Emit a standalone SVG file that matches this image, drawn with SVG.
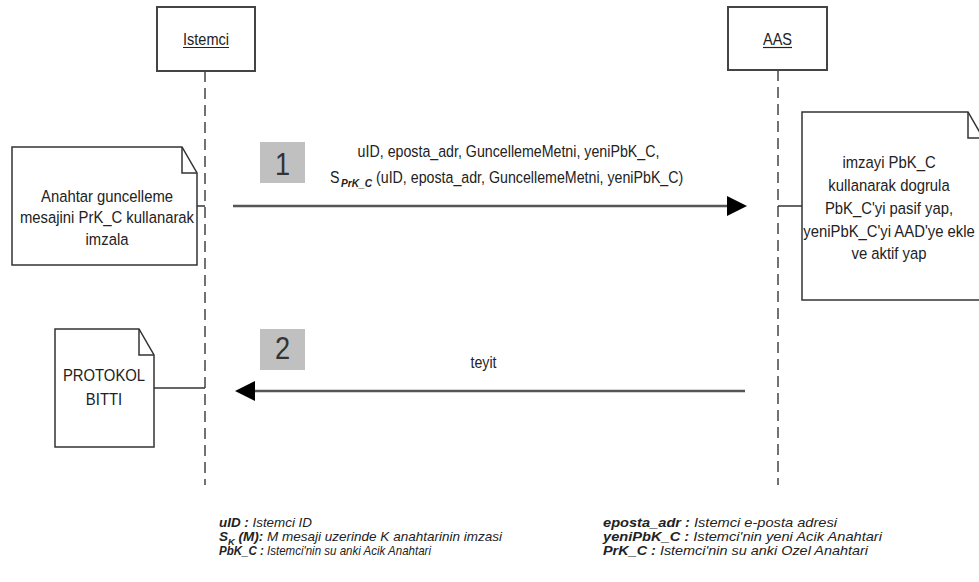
<svg xmlns="http://www.w3.org/2000/svg" width="979" height="582" viewBox="0 0 979 582">
<defs>
<style>
text{font-family:"Liberation Sans",Arial,sans-serif;fill:#222}
.lbl{font-size:17px}
.note{font-size:16.5px;text-anchor:middle}
.msg{font-size:16.5px}
.num{font-size:32px;text-anchor:middle;fill:#333}
.lg{font-size:13px;font-style:italic}
.b{font-weight:bold}
.box{fill:#fff;stroke:#444;stroke-width:2}
.nt{fill:#fff;stroke:#333;stroke-width:1.5}
.fold{fill:none;stroke:#333;stroke-width:1.5}
.life{stroke:#444;stroke-width:1.5;stroke-dasharray:11 6;fill:none}
.conn{stroke:#333;stroke-width:1.5;fill:none}
.arr{stroke:#555;stroke-width:2.5;fill:none}
.head{fill:#000}
.nbox{fill:#c0c0c0}
</style>
</defs>

<g id="istemci">
<rect class="box" x="157" y="7" width="98" height="64"/>
<text class="lbl" transform="translate(206,45) scale(0.855,1)" text-anchor="middle">Istemci</text>
<line x1="183" y1="47.5" x2="229" y2="47.5" stroke="#222" stroke-width="1.2"/>
</g>

<g id="aas">
<rect class="box" x="728" y="7" width="99" height="63"/>
<text class="lbl" transform="translate(777.5,45) scale(0.855,1)" text-anchor="middle">AAS</text>
<line x1="763" y1="47.5" x2="792" y2="47.5" stroke="#222" stroke-width="1.2"/>
</g>

<g id="lifelines">
<line class="life" x1="205" y1="71" x2="205" y2="485"/>
<line class="life" x1="778" y1="70" x2="778" y2="485"/>
</g>

<g id="note-imzala">
<path class="nt" d="M12,147 H182 L197,173 V265 H12 Z"/>
<path class="fold" d="M182,147 V173 H197"/>
<g transform="translate(107,0) scale(0.9,1)">
<text class="note" x="0" y="202">Anahtar guncelleme</text>
<text class="note" x="0" y="223">mesajini PrK_C kullanarak</text>
<text class="note" x="0" y="245">imzala</text>
</g>
</g>

<g id="note-dogrula">
<path class="nt" d="M802,112 H968 L983,138 V300 H802 Z"/>
<path class="fold" d="M968,112 V138 H983"/>
<g transform="translate(889,0) scale(0.9,1)">
<text class="note" x="0" y="168">imzayi PbK_C</text>
<text class="note" x="0" y="191">kullanarak dogrula</text>
<text class="note" x="0" y="214">PbK_C'yi pasif yap,</text>
<text class="note" x="0" y="237">yeniPbK_C'yi AAD'ye ekle</text>
<text class="note" x="0" y="259">ve aktif yap</text>
</g>
</g>

<g id="note-bitti">
<path class="nt" d="M55,329 H139 L154,355 V447 H55 Z"/>
<path class="fold" d="M139,329 V355 H154"/>
<g transform="translate(104,0) scale(0.9,1)">
<text class="note" x="0" y="381">PROTOKOL</text>
<text class="note" x="0" y="405">BITTI</text>
</g>
</g>

<g id="step1">
<rect class="nbox" x="260" y="142" width="45" height="41"/>
<text class="num" transform="translate(282.5,175) scale(0.85,1)">1</text>
</g>

<g id="step2">
<rect class="nbox" x="260" y="329" width="45" height="41"/>
<text class="num" transform="translate(282.5,359) scale(0.85,1)">2</text>
</g>

<g id="connectors">
<line class="conn" x1="197" y1="206" x2="205" y2="206"/>
<line class="conn" x1="778" y1="206" x2="802" y2="206"/>
<line class="conn" x1="154" y1="388" x2="205" y2="388"/>
<line class="arr" x1="233" y1="206" x2="730" y2="206"/>
<polygon class="head" points="727,196 747,206 727,216"/>
<line class="arr" x1="252" y1="391" x2="745" y2="391"/>
<polygon class="head" points="255,381 235,391 255,401"/>
</g>

<g id="msg1-label">
<text class="msg" transform="translate(508.5,157) scale(0.862,1)" text-anchor="middle">uID, eposta_adr, GuncellemeMetni, yeniPbK_C,</text>
<text class="msg" transform="translate(330,183) scale(0.862,1)">S</text>
<text x="341" y="187" font-size="10" font-weight="bold" font-style="italic" textLength="31" lengthAdjust="spacingAndGlyphs">PrK_C</text>
<text class="msg" transform="translate(376,183) scale(0.862,1)">(uID, eposta_adr, GuncellemeMetni, yeniPbK_C)</text>
</g>

<g id="msg2-label">
<text class="msg" transform="translate(483.5,368) scale(0.862,1)" text-anchor="middle">teyit</text>
</g>

<g id="legend">
<text class="lg" x="219" y="527" textLength="93" lengthAdjust="spacingAndGlyphs"><tspan class="b">uID :</tspan> Istemci ID</text>
<text class="lg" x="219" y="541" textLength="283" lengthAdjust="spacingAndGlyphs"><tspan class="b">S</tspan><tspan class="b" font-size="9" dy="3.5">K</tspan><tspan class="b" dy="-3.5"> (M):</tspan> M mesaji uzerinde K anahtarinin imzasi</text>
<text class="lg" x="219" y="555" textLength="212" lengthAdjust="spacingAndGlyphs"><tspan class="b">PbK_C :</tspan> Istemci'nin su anki Acik Anahtari</text>

<text class="lg" x="603" y="527" textLength="234" lengthAdjust="spacingAndGlyphs"><tspan class="b">eposta_adr :</tspan> Istemci e-posta adresi</text>
<text class="lg" x="603" y="541" textLength="279" lengthAdjust="spacingAndGlyphs"><tspan class="b">yeniPbK_C :</tspan> Istemci'nin yeni Acik Anahtari</text>
<text class="lg" x="603" y="555" textLength="265" lengthAdjust="spacingAndGlyphs"><tspan class="b">PrK_C :</tspan> Istemci'nin su anki Ozel Anahtari</text>
</g>
</svg>
